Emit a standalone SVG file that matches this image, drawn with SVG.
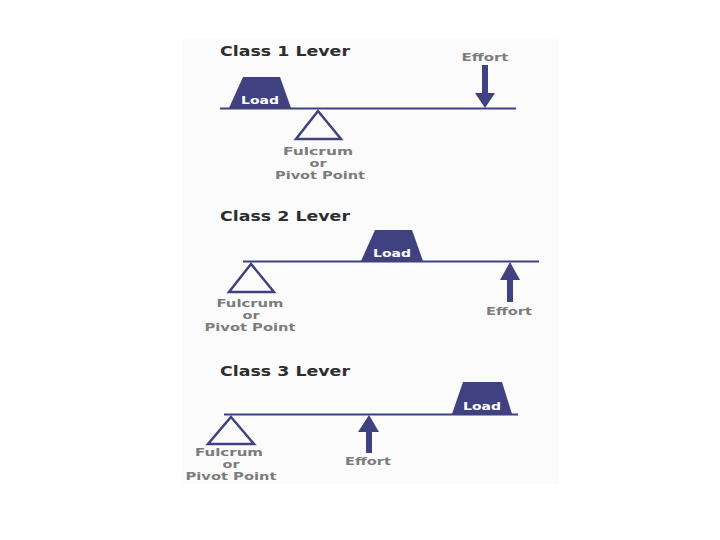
<svg xmlns="http://www.w3.org/2000/svg" width="720" height="540" viewBox="0 0 720 540">
<style>
.title{font-family:"DejaVu Sans","Liberation Sans",Arial,sans-serif;font-weight:bold;font-size:14px;fill:#2e2e2e}
.lbl{font-family:"DejaVu Sans","Liberation Sans",Arial,sans-serif;font-weight:bold;font-size:10.3px;fill:#7c7c7c;text-anchor:middle}
.load-t{font-family:"DejaVu Sans","Liberation Sans",Arial,sans-serif;font-weight:bold;font-size:11px;fill:#ffffff;text-anchor:middle}
.beam{stroke:#3f4180;stroke-width:2;fill:none}
.load{fill:#3f4180}
.fulcrum{fill:none;stroke:#3f4180;stroke-width:2.5;stroke-linejoin:miter}
.arrow{fill:#3f4180}
</style>
<rect x="182" y="39" width="377" height="445" fill="#fbfbfb"/>

<!-- Class 1 -->
<g id="class1">
  <text class="title" x="220" y="56" textLength="130" lengthAdjust="spacingAndGlyphs">Class 1 Lever</text>
  <g id="c1-load">
    <polygon class="load" points="243,77 280,77 291,108 229,108"/>
    <text class="load-t" x="260" y="104" textLength="38" lengthAdjust="spacingAndGlyphs">Load</text>
  </g>
  <g id="c1-fulcrum">
    <polygon class="fulcrum" points="318,111 341,139 296,139"/>
    <text class="lbl" x="318" y="155" textLength="70" lengthAdjust="spacingAndGlyphs">Fulcrum</text>
    <text class="lbl" x="318" y="167" textLength="17" lengthAdjust="spacingAndGlyphs">or</text>
    <text class="lbl" x="320" y="179" textLength="90" lengthAdjust="spacingAndGlyphs">Pivot Point</text>
  </g>
  <g id="c1-effort">
    <text class="lbl" x="485" y="61" textLength="47" lengthAdjust="spacingAndGlyphs">Effort</text>
  </g>
</g>

<!-- Class 2 -->
<g id="class2">
  <text class="title" x="220" y="221" textLength="130" lengthAdjust="spacingAndGlyphs">Class 2 Lever</text>
  <g id="c2-load">
    <polygon class="load" points="375,230 412,230 423,261 361,261"/>
    <text class="load-t" x="392" y="257" textLength="38" lengthAdjust="spacingAndGlyphs">Load</text>
  </g>
  <g id="c2-fulcrum">
    <polygon class="fulcrum" points="251,264 274,292 229,292"/>
    <text class="lbl" x="250" y="307" textLength="67" lengthAdjust="spacingAndGlyphs">Fulcrum</text>
    <text class="lbl" x="251" y="319" textLength="17" lengthAdjust="spacingAndGlyphs">or</text>
    <text class="lbl" x="250" y="331" textLength="91" lengthAdjust="spacingAndGlyphs">Pivot Point</text>
  </g>
  <g id="c2-effort">
    <text class="lbl" x="509" y="315" textLength="46" lengthAdjust="spacingAndGlyphs">Effort</text>
  </g>
</g>

<!-- Class 3 -->
<g id="class3">
  <text class="title" x="220" y="376" textLength="130" lengthAdjust="spacingAndGlyphs">Class 3 Lever</text>
  <g id="c3-load">
    <polygon class="load" points="463,382 502,382 512,414 452,414"/>
    <text class="load-t" x="482" y="410" textLength="38" lengthAdjust="spacingAndGlyphs">Load</text>
  </g>
  <g id="c3-fulcrum">
    <polygon class="fulcrum" points="231,417 254,444 208,444"/>
    <text class="lbl" x="229" y="456" textLength="68" lengthAdjust="spacingAndGlyphs">Fulcrum</text>
    <text class="lbl" x="231" y="468" textLength="17" lengthAdjust="spacingAndGlyphs">or</text>
    <text class="lbl" x="231" y="480" textLength="91" lengthAdjust="spacingAndGlyphs">Pivot Point</text>
  </g>
  <g id="c3-effort">
    <text class="lbl" x="368" y="465" textLength="46" lengthAdjust="spacingAndGlyphs">Effort</text>
  </g>
</g>

<!-- Connectors: beams and effort arrows -->
<g id="connectors">
  <line class="beam" x1="220" y1="108.5" x2="516" y2="108.5"/>
  <line class="beam" x1="243" y1="261.5" x2="539" y2="261.5"/>
  <line class="beam" x1="224" y1="414.5" x2="518" y2="414.5"/>
  <polygon class="arrow" points="482,65 488,65 488,93 495,93 485,108 475,93 482,93"/>
  <polygon class="arrow" points="510,262 520,280 513,280 513,302 507,302 507,280 500,280"/>
  <polygon class="arrow" points="369,415 379,432 372,432 372,453 366,453 366,432 358,432"/>
</g>
</svg>
